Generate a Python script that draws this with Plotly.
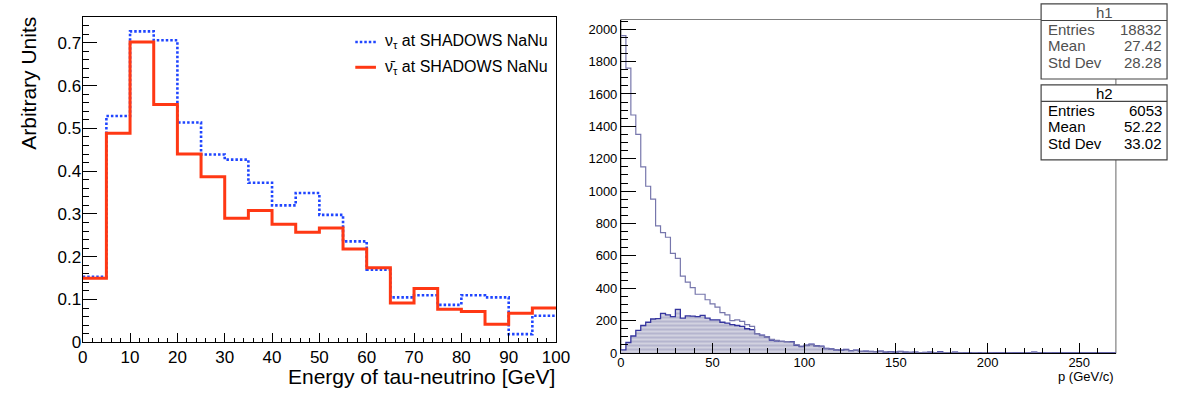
import numpy as np
import plotly.graph_objects as go

W, H = 1184, 403
FONT = "Liberation Sans"

# ---------------- Left panel data ----------------
energy_edges = [0, 5, 10, 15, 20, 25, 30, 35, 40, 45, 50, 55, 60, 65, 70, 75, 80, 85, 90, 95, 100]
nu_tau = [0.153, 0.529, 0.727, 0.706, 0.514, 0.439, 0.427, 0.373, 0.320, 0.349,
          0.298, 0.236, 0.170, 0.105, 0.110, 0.0875, 0.110, 0.105, 0.019, 0.062]
nubar_tau = [0.150, 0.489, 0.702, 0.556, 0.440, 0.387, 0.290, 0.308, 0.276, 0.257,
             0.267, 0.218, 0.174, 0.092, 0.126, 0.077, 0.072, 0.042, 0.068, 0.080]
legend_labels = ["ν<sub>τ</sub> at SHADOWS NaNu", "ν̄<sub>τ</sub> at SHADOWS NaNu"]

# ---------------- Right panel data ----------------
p_range = (0, 270)
p_nbins = 100
h1_counts = [1960, 1760, 1470, 1350, 1150, 1030, 950, 785, 743, 715,
             615, 585, 475, 438, 404, 363, 363, 329, 303, 283,
             250, 235, 200, 205, 195, 175, 165, 120, 108, 100,
             85, 78, 72, 70, 68, 50, 42, 46, 52, 44,
             40, 28, 24, 20, 18, 20, 14, 16, 10, 11,
             9, 8, 10, 6, 7, 5, 8, 5, 4, 4,
             3, 3, 5, 2, 6, 3, 2, 4, 2, 1,
             0, 2, 0, 2, 1, 0, 1, 0, 1, 0,
             0, 1, 0, 4, 0, 0, 1, 0, 0, 0,
             0, 0, 0, 0, 0, 0, 0, 0, 0, 0]
h2_counts = [20, 65, 105, 140, 170, 190, 210, 212, 245, 235,
             225, 270, 215, 230, 228, 225, 232, 215, 205, 205,
             190, 185, 175, 170, 165, 150, 145, 120, 110, 100,
             80, 75, 72, 70, 70, 48, 40, 48, 55, 45,
             42, 28, 25, 20, 18, 22, 15, 18, 10, 12,
             10, 8, 12, 6, 8, 5, 10, 6, 4, 5,
             3, 4, 6, 2, 8, 3, 2, 5, 2, 1,
             0, 2, 0, 3, 1, 0, 2, 0, 1, 0,
             0, 1, 0, 6, 0, 0, 1, 0, 0, 0,
             0, 0, 0, 0, 0, 0, 0, 0, 0, 0]
stats_h1 = [("Entries", "18832"), ("Mean", "27.42"), ("Std Dev", "28.28")]
stats_h2 = [("Entries", "6053"), ("Mean", "52.22"), ("Std Dev", "33.02")]

p_edges = np.linspace(p_range[0], p_range[1], p_nbins + 1)


def px(x):
    return x / W


def py(y):
    return 1 - y / H


def step_xy(edges, vals):
    return list(edges), list(vals) + [vals[-1]]


fig = go.Figure()

# Left histograms
x, y = step_xy(energy_edges, nu_tau)
fig.add_trace(go.Scatter(x=x, y=y, mode="lines", line_shape="hv",
                         line=dict(color="#1f45ff", width=2.6, dash="2.5px,2px"),
                         xaxis="x", yaxis="y", showlegend=False, hoverinfo="skip"))
x, y = step_xy(energy_edges, nubar_tau)
fig.add_trace(go.Scatter(x=x, y=y, mode="lines", line_shape="hv",
                         line=dict(color="#ff3814", width=3),
                         xaxis="x", yaxis="y", showlegend=False, hoverinfo="skip"))

# Right histograms
x, y = step_xy(p_edges, h2_counts)
fig.add_trace(go.Scatter(x=x, y=y, mode="lines", line_shape="hv", fill="tozeroy",
                         fillcolor="#d2d2e0",
                         fillpattern=dict(shape="-", fgcolor="#7c7cac", bgcolor="#d2d2e0",
                                          size=4, solidity=0.35),
                         line=dict(color="#34349e", width=1.3),
                         xaxis="x2", yaxis="y2", showlegend=False, hoverinfo="skip"))
x, y = step_xy(p_edges, h1_counts)
fig.add_trace(go.Scatter(x=x, y=y, mode="lines", line_shape="hv",
                         line=dict(color="#7676ac", width=1.2),
                         xaxis="x2", yaxis="y2", showlegend=False, hoverinfo="skip"))

axis_common = dict(showgrid=False, zeroline=False, showline=True, linecolor="black",
                   ticks="inside", tickcolor="black", tickwidth=1)

fig.update_layout(
    width=W, height=H, margin=dict(l=0, r=0, t=0, b=0),
    paper_bgcolor="white", plot_bgcolor="white",
    font=dict(family=FONT, color="black"),
    xaxis=dict(domain=[px(79), px(560)], range=[0, 100], dtick=10, tick0=0,
               ticklen=9, linewidth=1.3, mirror=True, anchor="y",
               minor=dict(dtick=2, ticklen=4.5, ticks="inside", tickcolor="black"),
               tickfont=dict(size=17, family=FONT), ticklabelstandoff=-1, **axis_common),
    yaxis=dict(domain=[py(351), py(17)], range=[0, 0.7615], dtick=0.1, tick0=0,
               ticklen=14, linewidth=1.3, mirror=True, anchor="x",
               minor=dict(dtick=0.02, ticklen=6, ticks="inside", tickcolor="black"),
               tickfont=dict(size=17, family=FONT), ticklabelstandoff=-3, **axis_common),
    xaxis2=dict(domain=[px(626), px(1129)], range=[0, 270], dtick=50, tick0=0,
                ticklen=10, linewidth=1, anchor="y2",
                minor=dict(dtick=10, ticklen=5, ticks="inside", tickcolor="black"),
                tickfont=dict(size=13, family=FONT), ticklabelstandoff=-3, **axis_common),
    yaxis2=dict(domain=[py(362), py(20)], range=[0, 2060], dtick=200, tick0=0,
                ticklen=15, linewidth=1, anchor="x2",
                minor=dict(dtick=50, ticklen=7.5, ticks="inside", tickcolor="black"),
                tickfont=dict(size=13, family=FONT), ticklabelstandoff=0, **axis_common),
)

shapes = []
annotations = []

# Right frame (gray, top & right)
shapes.append(dict(type="rect", xref="paper", yref="paper", x0=px(626), x1=px(1129),
                   y0=py(362), y1=py(20), line=dict(color="#808080", width=1.2), layer="below"))

# Left legend
leg_rows = [(43, "#1f45ff", "2.5px,2px", 2.6), (69, "#ff3814", "solid", 3)]
for (yy, col, dash, wd), lab in zip(leg_rows, legend_labels):
    shapes.append(dict(type="line", xref="paper", yref="paper", x0=px(356), x1=px(377),
                       y0=py(yy), y1=py(yy), line=dict(color=col, width=wd, dash=dash)))
    annotations.append(dict(x=px(384), y=py(yy), xref="paper", yref="paper", text=lab,
                            showarrow=False, xanchor="left", yanchor="middle",
                            font=dict(size=16, family=FONT, color="black")))

# Axis titles
annotations.append(dict(x=px(561), y=py(386), xref="paper", yref="paper",
                        text="Energy of tau-neutrino [GeV]", showarrow=False,
                        xanchor="right", yanchor="middle",
                        font=dict(size=21, family=FONT, color="black")))
annotations.append(dict(x=px(24), y=py(15), xref="paper", yref="paper",
                        text="Arbitrary Units", showarrow=False, textangle=-90,
                        xanchor="center", yanchor="top",
                        font=dict(size=21, family=FONT, color="black")))
annotations.append(dict(x=px(1129), y=py(386), xref="paper", yref="paper",
                        text="p (GeV/c)", showarrow=False,
                        xanchor="right", yanchor="middle",
                        font=dict(size=13, family=FONT, color="black")))

# Stats boxes
def stats_box(top, title, rows, color):
    left, right = 1053, 1181
    bottom = top + 77
    shapes.append(dict(type="rect", xref="paper", yref="paper", x0=px(left), x1=px(right),
                       y0=py(bottom), y1=py(top), fillcolor="white",
                       line=dict(color="#444444", width=1.2), layer="above"))
    shapes.append(dict(type="line", xref="paper", yref="paper", x0=px(left), x1=px(right),
                       y0=py(top + 17), y1=py(top + 17),
                       line=dict(color="#444444", width=1.2), layer="above"))
    annotations.append(dict(x=px((left + right) / 2), y=py(top + 8.5), xref="paper", yref="paper",
                            text=title, showarrow=False, xanchor="center", yanchor="middle",
                            font=dict(size=15, family=FONT, color=color)))
    for i, (k, v) in enumerate(rows):
        yy = top + 26 + 17 * i
        annotations.append(dict(x=px(left + 5), y=py(yy), xref="paper", yref="paper",
                                text=k, showarrow=False, xanchor="left", yanchor="middle",
                                font=dict(size=15, family=FONT, color=color)))
        annotations.append(dict(x=px(right - 3), y=py(yy), xref="paper", yref="paper",
                                text=v, showarrow=False, xanchor="right", yanchor="middle",
                                font=dict(size=15, family=FONT, color=color)))

stats_box(4, "h1", stats_h1, "#505050")
stats_box(87, "h2", stats_h2, "black")

fig.update_layout(shapes=shapes, annotations=annotations)

# remove the browser's default body margin and fit the figure to the window
fit_js = (
    "document.body.style.margin='0';"
    "document.body.style.overflow='hidden';"
    "var gd=document.getElementById('{plot_id}');"
    "Plotly.relayout(gd,{width:window.innerWidth,height:window.innerHeight});"
)
fig.write_html("out.html", config={"displayModeBar": False}, post_script=fit_js)
